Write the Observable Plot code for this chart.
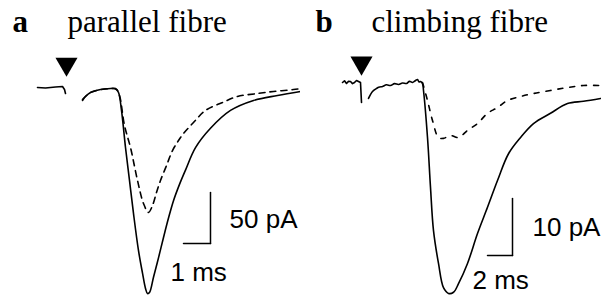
<!DOCTYPE html>
<html>
<head>
<meta charset="utf-8">
<script src="https://cdn.jsdelivr.net/npm/d3@7"></script>
<script src="https://cdn.jsdelivr.net/npm/@observablehq/plot@0.6"></script>
<style>
  html, body { margin: 0; padding: 0; background: #fff; }
  #wrap { display: flex; width: 601px; height: 299px; }
</style>
</head>
<body>
<div id="wrap"></div>
<script>
// ---------- Panel a: parallel fibre (time in ms, current in pA) ----------
const aTitle = ["a", "parallel fibre"];
const aPre = [[-1.074,0],[-0.778,-0.5],[-0.407,0.5],[-0.148,1],[-0.074,-2],[-0.037,-5.9]];
const aSolid = [[0.593,-12.7],[0.704,-8.8],[0.889,-4.9],[1.259,-2],[1.63,-1],[1.815,-1],[1.926,-4.9],
  [2.037,-22.5],[2.185,-58.8],[2.333,-91],[2.481,-123.5],[2.667,-160],[2.815,-182],[2.926,-197],
  [3.0,-202],[3.074,-201],[3.222,-186],[3.407,-167],[3.593,-147],[3.778,-128],[3.963,-111],
  [4.185,-95],[4.407,-81],[4.778,-59],[5.333,-40],[6.074,-22.5],[6.926,-12.7],[7.815,-7.8],[8.667,-3.9]];
const aDashed = [[0.593,-11.8],[0.889,-4.9],[1.63,-1],[1.852,-2],[1.963,-7.8],[2.148,-37.3],[2.37,-58.8],
  [2.63,-91.2],[2.852,-113.7],[3.037,-122.5],[3.185,-115.7],[3.333,-102.9],[3.481,-91.2],[3.704,-76.5],
  [3.926,-61.8],[4.148,-52],[4.333,-45.1],[4.704,-34.3],[5.148,-22.5],[5.778,-14.7],[6.333,-8.8],
  [7.074,-5.9],[7.667,-3.9],[8.407,-2],[8.667,-1]];
const aStimulus = [[0, 23]];
const aBarV = [[5.333,-102.9],[5.333,-152.9]];
const aBarH = [[4.333,-152.9],[5.333,-152.9]];
const aLabels = [[6.04,-129.4,"50 pA"],[3.85,-181.4,"1 ms"]];

// ---------- Panel b: climbing fibre ----------
const bTitle = ["b", "climbing fibre"];
const bPre = [[-1.52,0],[-1.36,0.3],[-1.2,-0.18],[-1.04,0.2],[-0.88,0.18],[-0.72,-0.2],[-0.56,0],
  [-0.4,0.35],[-0.24,0.18],[-0.08,0],[0,-3.5]];
const bSolid = [[0.56,-2.8],[0.88,-1.58],[1.2,-1.05],[1.44,-0.8],[1.68,-0.7],[2.0,-0.4],[2.32,-0.53],
  [2.64,-0.2],[2.96,-0.35],[3.28,-0.1],[3.6,-0.18],[3.84,0.2],[4.08,0],[4.3,0.3],[4.48,0.53],
  [4.6,0.1],[4.72,0.18],[4.88,-0.18],[4.96,-1.4],[5.28,-9.65],[5.52,-18.4],[5.76,-26],[6.16,-31.75],
  [6.56,-36],[6.96,-37],[7.36,-36.8],[7.76,-35.3],[8.48,-31.75],[9.28,-26.5],[10.08,-21.9],
  [10.88,-17.2],[11.76,-12.5],[12.72,-9.65],[13.76,-7.2],[15.12,-5.4],[16.48,-3.7],[17.76,-3.3],[19.12,-2.8]];
const bDashed = [[4.88,0],[5.28,-3.16],[5.68,-6.67],[6.16,-9.65],[6.56,-9.8],[7.12,-9.3],[7.76,-9.65],
  [8.48,-8.4],[9.28,-7.2],[10.08,-5.4],[10.88,-4.4],[11.68,-3.16],[12.72,-2.46],[13.76,-1.93],
  [15.12,-1.4],[16.48,-0.88],[17.76,-0.53],[19.12,-0.53]];
const bStimulus = [[0, 3.44]];
const bBarV = [[12.08,-20.35],[12.08,-30.35]];
const bBarH = [[10.08,-30.35],[12.08,-30.35]];
const bLabels = [[13.68,-25.4,"10 pA"],[8.88,-34.7,"2 ms"]];

const serif = "'Liberation Serif', 'DejaVu Serif', serif";
const sans = "'Liberation Sans', Arial, sans-serif";

function panel({width, xDomain, yDomain, title, titleDx, pre, solid, dashed, dash, stim, barV, barH, labels}) {
  const X = d => d[0], Y = d => d[1];
  return Plot.plot({
    width, height: 299,
    margin: 0,
    x: {domain: xDomain, axis: null},
    y: {domain: yDomain, axis: null},
    style: {background: "#fff", overflow: "visible"},
    marks: [
      Plot.text([title[0]], {frameAnchor: "top-left", lineAnchor: "bottom", dx: titleDx[0], dy: 31, text: d => d,
        fontFamily: serif, fontWeight: "bold", fontSize: 31, textAnchor: "start", fill: "#000"}),
      Plot.text([title[1]], {frameAnchor: "top-left", lineAnchor: "bottom", dx: titleDx[1], dy: 31, text: d => d,
        fontFamily: serif, fontSize: 31, textAnchor: "start", fill: "#000"}),
      Plot.dot(stim, {x: X, y: Y, symbol: "triangle", r: 8.2, rotate: 180, fill: "#000", stroke: "none"}),
      Plot.line(pre, {x: X, y: Y, stroke: "#000", strokeWidth: 1.6}),
      Plot.line(dashed, {x: X, y: Y, stroke: "#000", strokeWidth: 1.6, strokeDasharray: dash, curve: "catmull-rom"}),
      Plot.line(solid, {x: X, y: Y, stroke: "#000", strokeWidth: 1.6, curve: "catmull-rom"}),
      Plot.line(barV, {x: X, y: Y, stroke: "#000", strokeWidth: 1.5}),
      Plot.line(barH, {x: X, y: Y, stroke: "#000", strokeWidth: 1.5}),
      Plot.text(labels, {x: X, y: Y, text: d => d[2], textAnchor: "start",
        fontFamily: sans, fontSize: 26, fill: "#000"})
    ]
  });
}

const wrap = document.getElementById("wrap");
wrap.append(panel({
  width: 300, xDomain: [-66/27, (300-66)/27], yDomain: [(87-299)/1.02, 87/1.02],
  title: aTitle, titleDx: [12, 67], pre: aPre, solid: aSolid, dashed: aDashed, dash: "6,5",
  stim: aStimulus, barV: aBarV, barH: aBarH, labels: aLabels
}));
wrap.append(panel({
  width: 301, xDomain: [(300-361)/12.5, (601-361)/12.5], yDomain: [(82-299)/5.7, 82/5.7],
  title: bTitle, titleDx: [15, 71], pre: bPre, solid: bSolid, dashed: bDashed, dash: "5,7",
  stim: bStimulus, barV: bBarV, barH: bBarH, labels: bLabels
}));
</script>
</body>
</html>
